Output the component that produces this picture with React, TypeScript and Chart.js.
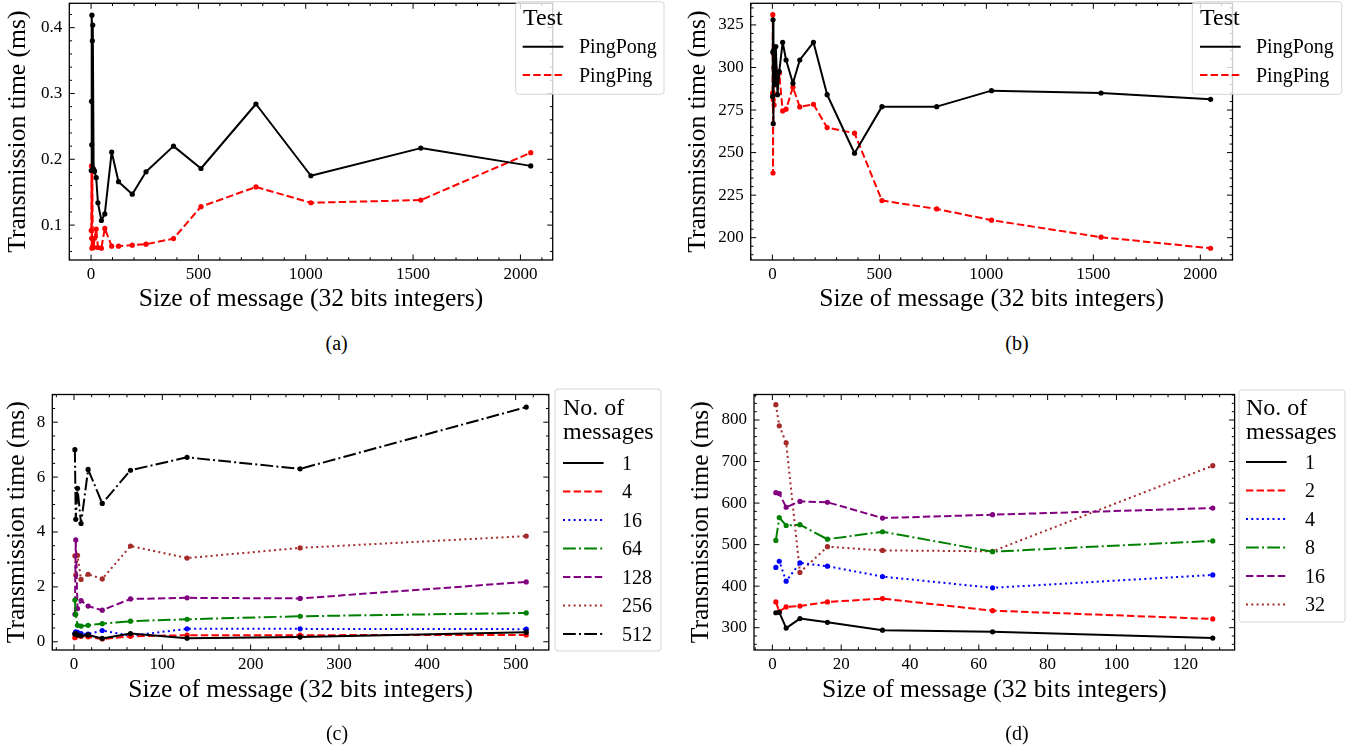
import React, { useEffect, useRef } from "react";
import { Chart, registerables } from "chart.js";

Chart.register(...registerables);

const FONT = "'Liberation Serif', 'Times New Roman', serif";

// ---------------- DATA ----------------
const xSizesAB = [1, 2, 3, 4, 6, 8, 12, 16, 24, 32, 48, 64, 96, 128, 192, 256, 384, 512, 768, 1024, 1536, 2048];
const pingPongA = [0.183, 0.288, 0.222, 0.419, 0.38, 0.404, 0.185, 0.182, 0.172, 0.134, 0.107, 0.117, 0.211, 0.166, 0.147, 0.181, 0.22, 0.186, 0.284, 0.175, 0.217, 0.19];
const pingPingA = [0.092, 0.19, 0.08, 0.065, 0.188, 0.068, 0.066, 0.08, 0.094, 0.066, 0.065, 0.095, 0.068, 0.068, 0.0695, 0.071, 0.0795, 0.128, 0.158, 0.134, 0.138, 0.21];
const pingPongB = [283, 309, 328, 267, 310, 300, 290, 312.3, 284, 297.6, 314.8, 304.4, 290.7, 304.4, 314.8, 284, 249.6, 277, 277, 286.4, 285, 281.3];
const pingPingB = [285, 331, 238, 281, 308, 278, 300, 290, 293, 296.6, 274.5, 275.5, 288.4, 276.8, 278.4, 264.7, 261.4, 221.8, 216.9, 210.3, 200.3, 193.8];

const xSizesC = [1, 2, 4, 8, 16, 32, 64, 128, 256, 512];
const c1 = [0.28, 0.3, 0.25, 0.22, 0.25, 0.12, 0.3, 0.13, 0.17, 0.35];
const c4 = [0.15, 0.2, 0.22, 0.2, 0.18, 0.1, 0.2, 0.24, 0.24, 0.25];
const c16 = [0.3, 0.36, 0.34, 0.3, 0.28, 0.41, 0.22, 0.47, 0.47, 0.46];
const c64 = [1.52, 1.0, 0.6, 0.57, 0.6, 0.66, 0.75, 0.82, 0.93, 1.05];
const c128 = [1.0, 3.71, 1.21, 1.5, 1.3, 1.15, 1.56, 1.6, 1.58, 2.18];
const c256 = [3.13, 2.43, 3.15, 2.27, 2.46, 2.29, 3.49, 3.05, 3.42, 3.85];
const c512 = [7.0, 4.46, 5.59, 4.31, 6.28, 5.04, 6.25, 6.72, 6.3, 8.55];

const xSizesD = [1, 2, 4, 8, 16, 32, 64, 128];
const d1 = [336, 337, 299, 322, 313, 294, 290, 275];
const d2 = [362, 339, 350, 352, 362, 370, 341, 321];
const d4 = [445, 460, 412, 456, 448, 423, 396, 427];
const d8 = [510, 565, 546, 548, 513, 531, 483, 509];
const d16 = [625, 623, 590, 604, 602, 564, 572, 588];
const d32 = [837, 786, 745, 433, 495, 486, 484, 690];

// tick values / labels
const xTicksAB = [0, 500, 1000, 1500, 2000];
const xTickLabelsAB = ["0", "500", "1000", "1500", "2000"];
const yTicksA = [0.1, 0.2, 0.3, 0.4];
const yTickLabelsA = ["0.1", "0.2", "0.3", "0.4"];
const yTicksB = [200, 225, 250, 275, 300, 325];
const yTickLabelsB = ["200", "225", "250", "275", "300", "325"];
const xTicksC = [0, 100, 200, 300, 400, 500];
const xTickLabelsC = ["0", "100", "200", "300", "400", "500"];
const yTicksC = [0, 2, 4, 6, 8];
const yTickLabelsC = ["0", "2", "4", "6", "8"];
const xTicksD = [0, 20, 40, 60, 80, 100, 120];
const xTickLabelsD = ["0", "20", "40", "60", "80", "100", "120"];
const yTicksD = [300, 400, 500, 600, 700, 800];
const yTickLabelsD = ["300", "400", "500", "600", "700", "800"];

const testLabels = ["PingPong", "PingPing"];
const msgLabelsC = ["1", "4", "16", "64", "128", "256", "512"];
const msgLabelsD = ["1", "2", "4", "8", "16", "32"];

const X_TITLE = "Size of message (32 bits integers)";
const Y_TITLE = "Transmission time (ms)";

// ---------------- STYLES ----------------
const DASH: Record<string, number[]> = {
  solid: [],
  dashed: [7.4, 3.2],
  dotted: [2, 3.3],
  dashdot: [12.8, 3.2, 2, 3.2],
};
const STYLE_SEQ = [
  { color: "#000000", dash: DASH.solid },
  { color: "#ff0000", dash: DASH.dashed },
  { color: "#0000ff", dash: DASH.dotted },
  { color: "#008000", dash: DASH.dashdot },
  { color: "#800080", dash: DASH.dashed },
  { color: "#a52a2a", dash: DASH.dotted },
  { color: "#000000", dash: DASH.dashdot },
];

type Series = { label: string; x: number[]; y: number[]; color: string; dash: number[] };
type Axis = { min: number; max: number; ticks: number[]; labels: string[]; minor: number };
type Legend = {
  box: [number, number, number, number];
  titleLines: string[];
  titleX: number;
  titleY: number[];
  entryY: number[];
  handle: [number, number];
  textX: number;
};
type Panel = {
  pos: { left: number; top: number; width: number; height: number };
  area: { left: number; right: number; top: number; bottom: number };
  x: Axis;
  y: Axis;
  xTitlePad: number;
  yTitlePad: number;
  series: Series[];
  legend: Legend;
};

const panels: Panel[] = [
  {
    pos: { left: 0, top: 0, width: 680, height: 330 },
    area: { left: 69.3, right: 552.7, top: 3.3, bottom: 260 },
    x: { min: -101.35, max: 2150.35, ticks: xTicksAB, labels: xTickLabelsAB, minor: 100 },
    y: { min: 0.047, max: 0.437, ticks: yTicksA, labels: yTickLabelsA, minor: 0.02 },
    xTitlePad: 15,
    yTitlePad: 2.5,
    series: [
      { label: testLabels[0], x: xSizesAB, y: pingPongA, ...STYLE_SEQ[0] },
      { label: testLabels[1], x: xSizesAB, y: pingPingA, ...STYLE_SEQ[1] },
    ],
    legend: {
      box: [515.7, 1.7, 664, 94.3],
      titleLines: ["Test"],
      titleX: 523,
      titleY: [19],
      entryY: [46.7, 75],
      handle: [522.7, 563.3],
      textX: 579,
    },
  },
  {
    pos: { left: 680, top: 0, width: 673, height: 330 },
    area: { left: 70.7, right: 552.5, top: 3.3, bottom: 260 },
    x: { min: -101.35, max: 2150.35, ticks: xTicksAB, labels: xTickLabelsAB, minor: 100 },
    y: { min: 186.9, max: 337.7, ticks: yTicksB, labels: yTickLabelsB, minor: 5 },
    xTitlePad: 15,
    yTitlePad: 3,
    series: [
      { label: testLabels[0], x: xSizesAB, y: pingPongB, ...STYLE_SEQ[0] },
      { label: testLabels[1], x: xSizesAB, y: pingPingB, ...STYLE_SEQ[1] },
    ],
    legend: {
      box: [512.3, 1.7, 661.7, 94.3],
      titleLines: ["Test"],
      titleX: 520,
      titleY: [19],
      entryY: [46.7, 75],
      handle: [520, 560.7],
      textX: 576,
    },
  },
  {
    pos: { left: 0, top: 380, width: 680, height: 369 },
    area: { left: 52.3, right: 548.8, top: 14.5, bottom: 270 },
    x: { min: -24.55, max: 537.55, ticks: xTicksC, labels: xTickLabelsC, minor: 20 },
    y: { min: -0.3, max: 9.01, ticks: yTicksC, labels: yTickLabelsC, minor: 0.5 },
    xTitlePad: 43.3,
    yTitlePad: 1.5,
    series: [c1, c4, c16, c64, c128, c256, c512].map((ys, i) => ({
      label: msgLabelsC[i],
      x: xSizesC,
      y: ys,
      ...STYLE_SEQ[i],
    })),
    legend: {
      box: [555, 9, 661, 271],
      titleLines: ["No. of", "messages"],
      titleX: 563,
      titleY: [29, 53],
      entryY: [83, 111.5, 140, 168.5, 197, 225.5, 254],
      handle: [563, 603.6],
      textX: 622,
    },
  },
  {
    pos: { left: 680, top: 380, width: 673, height: 369 },
    area: { left: 74, right: 554.6, top: 14.5, bottom: 270 },
    x: { min: -5.35, max: 134.35, ticks: xTicksD, labels: xTickLabelsD, minor: 5 },
    y: { min: 246.3, max: 861.4, ticks: yTicksD, labels: yTickLabelsD, minor: 20 },
    xTitlePad: 43.3,
    yTitlePad: 6,
    series: [d1, d2, d4, d8, d16, d32].map((ys, i) => ({
      label: msgLabelsD[i],
      x: xSizesD,
      y: ys,
      ...STYLE_SEQ[i],
    })),
    legend: {
      box: [559, 10, 665, 242],
      titleLines: ["No. of", "messages"],
      titleX: 566,
      titleY: [29, 53],
      entryY: [82, 110.5, 139, 167.5, 196, 224.5],
      handle: [566, 606.6],
      textX: 625,
    },
  },
];

const captions = [
  { text: "(a)", cx: 336.7, cy: 343.3 },
  { text: "(b)", cx: 1017, cy: 343.3 },
  { text: "(c)", cx: 337, cy: 733.3 },
  { text: "(d)", cx: 1017, cy: 733.3 },
];

// ---------------- DRAWING ----------------
function isMajor(v: number, majors: number[]) {
  return majors.some((m) => Math.abs(m - v) < 1e-9 * Math.max(1, Math.abs(m)));
}

function makeDecor(p: Panel) {
  return {
    id: "decor",
    afterDatasetsDraw(chart: any) {
      const ctx: CanvasRenderingContext2D = chart.ctx;
      const a = chart.chartArea;
      const xs = chart.scales.x;
      const ys = chart.scales.y;
      const MAJ = 5.5;
      const MIN = 2.8;
      ctx.save();
      ctx.strokeStyle = "#000";
      ctx.lineWidth = 1;
      ctx.setLineDash([]);
      ctx.beginPath();
      const xTick = (v: number, len: number) => {
        const px = xs.getPixelForValue(v);
        if (px < a.left - 0.5 || px > a.right + 0.5) return;
        ctx.moveTo(px, a.bottom);
        ctx.lineTo(px, a.bottom - len);
        ctx.moveTo(px, a.top);
        ctx.lineTo(px, a.top + len);
      };
      const yTick = (v: number, len: number) => {
        const py = ys.getPixelForValue(v);
        if (py < a.top - 0.5 || py > a.bottom + 0.5) return;
        ctx.moveTo(a.left, py);
        ctx.lineTo(a.left + len, py);
        ctx.moveTo(a.right, py);
        ctx.lineTo(a.right - len, py);
      };
      p.x.ticks.forEach((v) => xTick(v, MAJ));
      for (let k = Math.ceil(p.x.min / p.x.minor); k * p.x.minor <= p.x.max; k++) {
        const v = k * p.x.minor;
        if (!isMajor(v, p.x.ticks)) xTick(v, MIN);
      }
      p.y.ticks.forEach((v) => yTick(v, MAJ));
      for (let k = Math.ceil(p.y.min / p.y.minor); k * p.y.minor <= p.y.max; k++) {
        const v = k * p.y.minor;
        if (!isMajor(v, p.y.ticks)) yTick(v, MIN);
      }
      ctx.stroke();
      ctx.lineWidth = 1.3;
      ctx.strokeRect(a.left, a.top, a.right - a.left, a.bottom - a.top);
      ctx.restore();
    },
    afterDraw(chart: any) {
      const ctx: CanvasRenderingContext2D = chart.ctx;
      const L = p.legend;
      const [x0, y0, x1, y1] = L.box;
      const r = 3;
      ctx.save();
      ctx.beginPath();
      ctx.moveTo(x0 + r, y0);
      ctx.lineTo(x1 - r, y0);
      ctx.arcTo(x1, y0, x1, y0 + r, r);
      ctx.lineTo(x1, y1 - r);
      ctx.arcTo(x1, y1, x1 - r, y1, r);
      ctx.lineTo(x0 + r, y1);
      ctx.arcTo(x0, y1, x0, y1 - r, r);
      ctx.lineTo(x0, y0 + r);
      ctx.arcTo(x0, y0, x0 + r, y0, r);
      ctx.closePath();
      ctx.fillStyle = "rgba(255,255,255,0.8)";
      ctx.fill();
      ctx.strokeStyle = "rgba(204,204,204,0.8)";
      ctx.lineWidth = 1;
      ctx.stroke();

      ctx.fillStyle = "#000";
      ctx.textAlign = "left";
      ctx.textBaseline = "middle";
      ctx.font = `24px ${FONT}`;
      L.titleLines.forEach((t, i) => ctx.fillText(t, L.titleX, L.titleY[i]));
      ctx.font = `20px ${FONT}`;
      p.series.forEach((s, i) => {
        const y = L.entryY[i];
        ctx.strokeStyle = s.color;
        ctx.lineWidth = 2;
        ctx.lineCap = "butt";
        ctx.setLineDash(s.dash);
        ctx.beginPath();
        ctx.moveTo(L.handle[0], y);
        ctx.lineTo(L.handle[1], y);
        ctx.stroke();
        ctx.setLineDash([]);
        ctx.fillStyle = "#000";
        ctx.fillText(s.label, L.textX, y + 1.5);
      });
      ctx.restore();
    },
  };
}

function buildChart(canvas: HTMLCanvasElement, p: Panel) {
  const W = p.pos.width;
  const H = p.pos.height;
  const tickFont = { family: FONT, size: 17, lineHeight: 1.2 };
  const titleFont = { family: FONT, size: 25.6, lineHeight: 1.2 };
  return new Chart(canvas, {
    type: "line",
    data: {
      datasets: p.series.map((s) => ({
        label: s.label,
        data: s.x.map((x, i) => ({ x, y: s.y[i] })),
        borderColor: s.color,
        backgroundColor: s.color,
        borderWidth: 2,
        borderDash: s.dash,
        borderCapStyle: "butt",
        borderJoinStyle: "round",
        pointRadius: 2.6,
        pointHoverRadius: 2.6,
        pointBorderWidth: 0,
        pointBackgroundColor: s.color,
        tension: 0,
        fill: false,
      })),
    } as any,
    options: {
      responsive: false,
      animation: false,
      devicePixelRatio: 1,
      events: [],
      layout: { padding: { left: 0, top: p.area.top, right: W - p.area.right, bottom: 0 } },
      plugins: { legend: { display: false }, tooltip: { enabled: false }, title: { display: false } },
      scales: {
        x: {
          type: "linear",
          bounds: "data",
          min: p.x.min,
          max: p.x.max,
          afterBuildTicks: (s: any) => {
            s.ticks = p.x.ticks.map((v) => ({ value: v }));
          },
          afterFit: (s: any) => {
            s.height = H - p.area.bottom;
            s.paddingLeft = 0;
            s.paddingRight = 0;
            s.paddingTop = 0;
            s.paddingBottom = 0;
          },
          grid: { display: false, drawTicks: false },
          border: { display: false },
          ticks: {
            font: tickFont,
            color: "#000",
            padding: 4,
            autoSkip: false,
            maxRotation: 0,
            minRotation: 0,
            callback: (_v: any, i: number) => p.x.labels[i],
          },
          title: {
            display: true,
            text: X_TITLE,
            color: "#000",
            font: titleFont,
            padding: { top: 0, bottom: p.xTitlePad },
          },
        },
        y: {
          type: "linear",
          bounds: "data",
          min: p.y.min,
          max: p.y.max,
          afterBuildTicks: (s: any) => {
            s.ticks = p.y.ticks.map((v) => ({ value: v }));
          },
          afterFit: (s: any) => {
            s.width = p.area.left;
            s.paddingLeft = 0;
            s.paddingRight = 0;
            s.paddingTop = 0;
            s.paddingBottom = 0;
          },
          grid: { display: false, drawTicks: false },
          border: { display: false },
          ticks: {
            font: tickFont,
            color: "#000",
            padding: 7,
            autoSkip: false,
            callback: (_v: any, i: number) => p.y.labels[i],
          },
          title: {
            display: true,
            text: Y_TITLE,
            color: "#000",
            font: titleFont,
            padding: { top: p.yTitlePad, bottom: 0 },
          },
        },
      },
    } as any,
    plugins: [makeDecor(p)],
  });
}

function PanelChart({ p }: { p: Panel }) {
  const ref = useRef<HTMLCanvasElement | null>(null);
  useEffect(() => {
    if (!ref.current) return;
    const chart = buildChart(ref.current, p);
    let alive = true;
    const fonts = (document as any).fonts;
    if (fonts && fonts.ready) {
      fonts.ready.then(() => {
        if (alive) chart.update();
      });
    }
    return () => {
      alive = false;
      chart.destroy();
    };
  }, [p]);
  return (
    <canvas
      ref={ref}
      width={p.pos.width}
      height={p.pos.height}
      style={{
        position: "absolute",
        left: p.pos.left,
        top: p.pos.top,
        width: p.pos.width,
        height: p.pos.height,
      }}
    />
  );
}

export default function App() {
  return (
    <div
      style={{
        position: "absolute",
        left: 0,
        top: 0,
        width: 1353,
        height: 749,
        background: "#fff",
        overflow: "hidden",
      }}
    >
      {panels.map((p, i) => (
        <PanelChart key={i} p={p} />
      ))}
      {captions.map((c) => (
        <div
          key={c.text}
          style={{
            position: "absolute",
            left: c.cx - 40,
            top: c.cy - 11,
            width: 80,
            textAlign: "center",
            fontFamily: FONT,
            fontSize: 20,
            lineHeight: "22px",
            color: "#000",
          }}
        >
          {c.text}
        </div>
      ))}
    </div>
  );
}
